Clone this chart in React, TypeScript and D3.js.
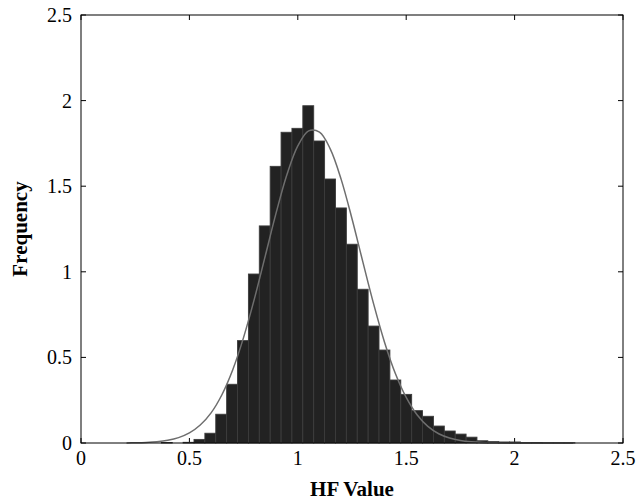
import React from "react";
import * as d3 from "d3";

const xTicks = [0, 0.5, 1, 1.5, 2, 2.5];
const yTicks = [0, 0.5, 1, 1.5, 2, 2.5];
const xTickLabels = ["0", "0.5", "1", "1.5", "2", "2.5"];
const yTickLabels = ["0", "0.5", "1", "1.5", "2", "2.5"];

const binStart = 0.3706;
const binWidth = 0.0502;
const freq = [
  0.003, 0, 0.004, 0.021, 0.057, 0.168, 0.343, 0.598, 0.987, 1.268, 1.616,
  1.815, 1.838, 1.97, 1.764, 1.542, 1.373, 1.161, 0.898, 0.683, 0.543, 0.368,
  0.284, 0.189, 0.156, 0.099, 0.07, 0.052, 0.034, 0.013, 0.008, 0.006, 0.006,
  0.002, 0.003, 0.001, 0.001, 0.001,
];

const fitX = [
  0.21, 0.25, 0.3, 0.35, 0.4, 0.45, 0.5, 0.55, 0.6, 0.65, 0.7, 0.75, 0.8, 0.85,
  0.9, 0.95, 1.0, 1.05, 1.1, 1.15, 1.2, 1.25, 1.3, 1.35, 1.4, 1.45, 1.5, 1.55,
  1.6, 1.65, 1.7, 1.75, 1.8, 1.85, 1.9, 1.95, 2.0, 2.1, 2.2, 2.27,
];
const fitY = [
  0.0007, 0.0015, 0.0035, 0.0077, 0.016, 0.0315, 0.059, 0.105, 0.176, 0.282,
  0.428, 0.617, 0.843, 1.093, 1.344, 1.568, 1.735, 1.823, 1.816, 1.717, 1.54,
  1.31, 1.058, 0.811, 0.589, 0.406, 0.266, 0.165, 0.097, 0.054, 0.029, 0.0145,
  0.0069, 0.0031, 0.0013, 0.0005, 0.0002, 0.0, 0.0, 0.0,
];

const W = 639;
const H = 501;
const left = 81;
const right = 623;
const top = 15;
const bottom = 443;

export default function App() {
  const x = d3.scaleLinear().domain([0, 2.5]).range([left, right]);
  const y = d3.scaleLinear().domain([0, 2.5]).range([bottom, top]);
  const line = d3
    .line<number>()
    .x((_, i) => x(fitX[i]))
    .y((d) => y(d))
    .curve(d3.curveCatmullRom);
  const tickLen = 5;
  const font = "'Liberation Serif', 'Times New Roman', serif";
  return (
    <svg
      width={W}
      height={H}
      style={{ position: "absolute", left: 0, top: 0, background: "#fff" }}
    >
      <rect x={0} y={0} width={W} height={H} fill="#fff" />
      <g stroke="#000" strokeWidth={1}>
        {xTicks.map((t) => (
          <g key={"xt" + t}>
            <line x1={x(t)} x2={x(t)} y1={bottom} y2={bottom - tickLen} />
            <line x1={x(t)} x2={x(t)} y1={top} y2={top + tickLen} />
          </g>
        ))}
        {yTicks.map((t) => (
          <g key={"yt" + t}>
            <line x1={left} x2={left + tickLen} y1={y(t)} y2={y(t)} />
            <line x1={right} x2={right - tickLen} y1={y(t)} y2={y(t)} />
          </g>
        ))}
      </g>
      <g fill="#222222" stroke="#3c3c3c" strokeWidth={0.9}>
        {freq.map((v, i) => {
          const l = binStart + i * binWidth;
          const x0 = x(l);
          const x1 = x(l + binWidth);
          return (
            <rect
              key={"b" + i}
              x={x0}
              y={y(v)}
              width={x1 - x0}
              height={y(0) - y(v)}
            />
          );
        })}
      </g>
      <path
        d={line(fitY) || ""}
        fill="none"
        stroke="#6e6e6e"
        strokeWidth={1.5}
      />
      <rect
        x={left}
        y={top}
        width={right - left}
        height={bottom - top}
        fill="none"
        stroke="#000"
        strokeWidth={1}
      />
      <g fontFamily={font} fontSize={20} fill="#000">
        {xTicks.map((t, i) => (
          <text key={"xl" + t} x={x(t)} y={bottom + 22} textAnchor="middle">
            {xTickLabels[i]}
          </text>
        ))}
        {yTicks.map((t, i) => (
          <text key={"yl" + t} x={left - 9} y={y(t) + 7} textAnchor="end">
            {yTickLabels[i]}
          </text>
        ))}
      </g>
      <text
        x={(left + right) / 2}
        y={496}
        textAnchor="middle"
        fontFamily={font}
        fontSize={21}
        fontWeight="bold"
      >
        HF Value
      </text>
      <text
        transform={`translate(27, ${(top + bottom) / 2}) rotate(-90)`}
        textAnchor="middle"
        fontFamily={font}
        fontSize={21}
        fontWeight="bold"
      >
        Frequency
      </text>
    </svg>
  );
}
